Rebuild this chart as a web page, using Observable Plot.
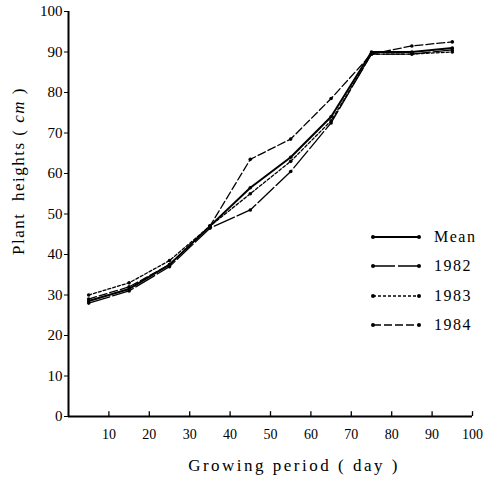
<!DOCTYPE html>
<html><head><meta charset="utf-8">
<script src="https://cdn.jsdelivr.net/npm/d3@7"></script>
<script src="https://cdn.jsdelivr.net/npm/@observablehq/plot@0.6"></script>
<style>
body{margin:0;background:#fff;}
#wrap{position:relative;width:485px;height:479px;font-family:"Liberation Serif","DejaVu Serif",serif;color:#000;}
#ylab{position:absolute;left:19px;top:171px;transform:translate(-50%,-50%) rotate(-90deg);white-space:nowrap;font-size:17px;letter-spacing:1.5px;}
#xlab{position:absolute;left:294px;top:456px;transform:translateX(-50%);white-space:nowrap;font-size:17px;letter-spacing:2.5px;}
#legend{position:absolute;left:370px;top:222px;}
.row{display:flex;align-items:center;height:29.5px;}
.row span{margin-left:12px;font-size:16px;letter-spacing:1.5px;}
</style></head><body><div id="wrap"></div>
<script>
const days = [5, 15, 25, 35, 45, 55, 65, 75, 85, 95];
const seriesNames = ["Mean", "1982", "1983", "1984"];
const meanH = [28.5, 31.5, 37.5, 47, 56.5, 64, 74, 90, 90, 91];
const h1982 = [28, 31, 37, 46.5, 51, 60.5, 72.5, 89.5, 89.5, 90.5];
const h1983 = [30, 33, 38.5, 47, 55, 63, 73, 89.5, 89.5, 90];
const h1984 = [29, 32, 37.5, 47, 63.5, 68.5, 78.5, 89.5, 91.5, 92.5];
const xTicks = [10, 20, 30, 40, 50, 60, 70, 80, 90, 100];
const yTicks = [0, 10, 20, 30, 40, 50, 60, 70, 80, 90, 100];

const values = [meanH, h1982, h1983, h1984];
const dashes = {"Mean": null, "1982": "22,3", "1983": "3,2", "1984": "8,3"};
const widths = {"Mean": 2, "1982": 1.3, "1983": 1.3, "1984": 1.3};
const rows = [];
seriesNames.forEach((s, i) => days.forEach((d, j) => rows.push({series: s, day: d, h: values[i][j]})));

const chart = Plot.plot({
  width: 485, height: 479,
  marginLeft: 68, marginRight: 13, marginTop: 11, marginBottom: 63,
  x: {domain: [0, 100]},
  y: {domain: [0, 100]},
  style: {fontFamily: "'Liberation Serif', serif", fontSize: "15px", color: "#000", background: "#fff"},
  marks: [
    Plot.ruleX([0], {stroke: "#000", strokeWidth: 2}),
    Plot.ruleY([0], {stroke: "#000", strokeWidth: 2}),
    Plot.axisY({ticks: yTicks, tickSize: 4, tickPadding: 2, label: null, fontSize: 15}),
    Plot.axisX({ticks: xTicks, tickSize: 0, tickPadding: 13, label: null, fontSize: 14}),
    Plot.ruleX(xTicks, {x: d => d, y1: 0, y2: 1.2, stroke: "#000", strokeWidth: 1.3}),
    ...seriesNames.map(s => Plot.line(rows.filter(r => r.series === s), {
      x: "day", y: "h", stroke: "#000", strokeWidth: widths[s], strokeDasharray: dashes[s]
    })),
    Plot.dot(rows, {x: "day", y: "h", r: 1.8, fill: "#000", stroke: "none"})
  ]
});

const wrap = document.getElementById("wrap");
wrap.appendChild(chart);

const ylab = document.createElement("div");
ylab.id = "ylab";
ylab.innerHTML = "Plant&nbsp; heights ( <i>cm</i> )";
wrap.appendChild(ylab);

const xlab = document.createElement("div");
xlab.id = "xlab";
xlab.textContent = "Growing period ( day )";
wrap.appendChild(xlab);

const legend = document.createElement("div");
legend.id = "legend";
seriesNames.forEach(s => {
  const row = document.createElement("div");
  row.className = "row";
  const svg = d3.create("svg").attr("width", 52).attr("height", 10);
  svg.append("line").attr("x1", 3).attr("x2", 49).attr("y1", 5).attr("y2", 5)
    .attr("stroke", "#000").attr("stroke-width", widths[s])
    .attr("stroke-dasharray", dashes[s]);
  svg.append("circle").attr("cx", 3).attr("cy", 5).attr("r", 2);
  svg.append("circle").attr("cx", 49).attr("cy", 5).attr("r", 2);
  row.appendChild(svg.node());
  const sp = document.createElement("span");
  sp.textContent = s;
  row.appendChild(sp);
  legend.appendChild(row);
});
wrap.appendChild(legend);
</script>
</body></html>
